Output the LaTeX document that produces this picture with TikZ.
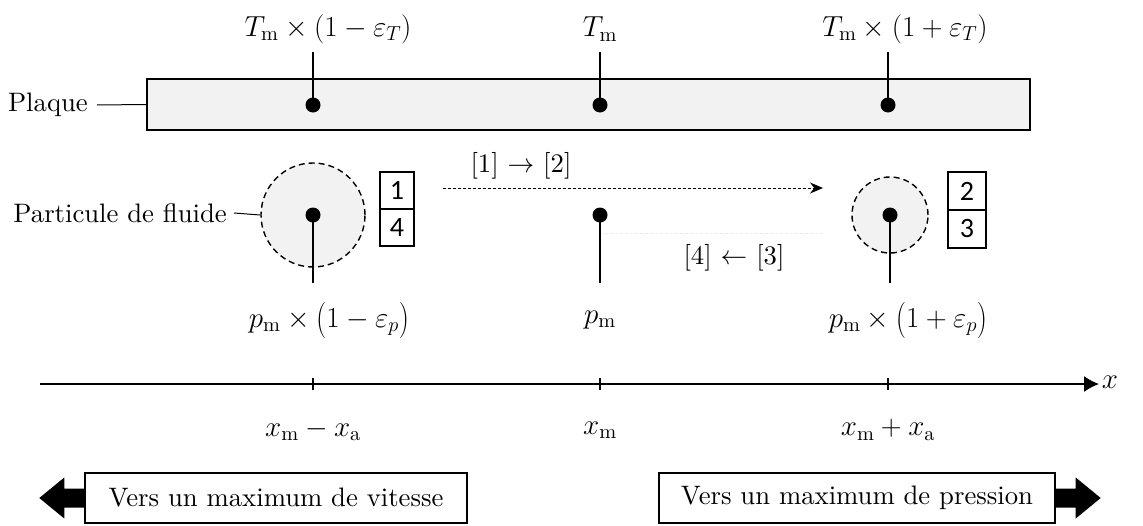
\RequirePackage{fix-cm}
\documentclass[tikz,border=0pt]{standalone}
\usepackage{amsmath}
\usepackage{graphicx}
\usepackage{fontspec}
\setmainfont{lmroman10-regular.otf}
\newfontfamily\numfont{Carlito}
\usetikzlibrary{arrows.meta}
\newcommand{\mathsz}{\fontsize{29}{34}\selectfont}
\newcommand{\tallL}{\mathopen{\raisebox{-1.8pt}{\scalebox{1}[1.25]{$($}}}}
\newcommand{\tallR}{\mathclose{\raisebox{-1.8pt}{\scalebox{1}[1.25]{$)$}}}}
\begin{document}
\begin{tikzpicture}[x=1pt,y=-1pt,
  font=\fontsize{26.7}{31}\selectfont,
  mlabel/.style={font=\mathsz},
  dot/.style={circle,fill=black,inner sep=0pt,minimum size=15pt},
  stem/.style={line width=1.4pt},
  particle/.style={circle,draw,fill=gray!10,line width=1.4pt,dash pattern=on 6pt off 4pt,inner sep=0pt},
  numbox/.style={draw,line width=1.4pt,inner sep=0pt,font=\numfont\fontsize{28}{30}\selectfont},
  textbox/.style={draw,line width=1.4pt,minimum height=50pt,inner sep=0pt},
  blockarrow/.style={fill=black}]
\useasboundingbox (0,0) rectangle (1143,525);

% plate
\node[draw,line width=2pt,fill=gray!10,minimum width=883pt,minimum height=51pt,inner sep=0pt] (plate) at (588.5,104.5) {};
\node[anchor=east,inner sep=0pt] (plq) at (88,105) {Plaque};
\draw[line width=1pt] ([xshift=9pt]plq.east) -- (plate.west);

% top dots and labels
\node[dot] (tl) at (313,105) {};
\node[dot] (tm) at (600,105) {};
\node[dot] (tr) at (888,105) {};
\node[mlabel] (Tl) at (328,29) {$T_\mathrm{m}\times(1-\varepsilon_T)$};
\node[mlabel] (Tm) at (600,29) {$T_\mathrm{m}$};
\node[mlabel] (Tr) at (905,29) {$T_\mathrm{m}\times(1+\varepsilon_T)$};
\coordinate (tlt) at (313,52);
\coordinate (tmt) at (600,52);
\coordinate (trt) at (888,52);
\draw[stem] (tl.center) -- (tlt);
\draw[stem] (tm.center) -- (tmt);
\draw[stem] (tr.center) -- (trt);

% particles
\node[particle,minimum size=104pt] (pl) at (313,215) {};
\node[particle,minimum size=76pt] (pr) at (890,215) {};
\node[anchor=east,inner sep=0pt] (pdf) at (227,213) {Particule de fluide};
\draw[line width=1pt] ([xshift=7pt]pdf.east) -- (pl.west);

\node[dot] (ml) at (313,215) {};
\node[dot] (mm) at (600,215) {};
\node[dot] (mr) at (890,215) {};

% numbered boxes
\node[numbox,minimum width=34pt,minimum height=37pt] (b1) at (397,190.5) {1};
\node[numbox,minimum width=34pt,minimum height=37pt] (b4) at (397,227.5) {4};
\node[numbox,minimum width=38pt,minimum height=38pt] (b2) at (967,191) {2};
\node[numbox,minimum width=38pt,minimum height=38pt] (b3) at (967,229) {3};

% transitions
\coordinate (a1s) at (443,188);
\coordinate (a1e) at (823,188);
\draw[line width=1pt,dash pattern=on 3pt off 2pt,-{Stealth[length=13pt,width=11pt]}] (a1s) -- (a1e);
\node (l12) at (521,166) {[1] $\rightarrow$ [2]};
\coordinate (a2s) at (823,233);
\coordinate (a2e) at (602,233);
\draw[black!8,line width=1pt,dash pattern=on 3pt off 2pt] (a2s) -- (a2e);
\node (l43) at (734,258) {[4] $\leftarrow$ [3]};

% bottom stems and labels
\node[mlabel] (Pl) at (329,320) {$p_\mathrm{m}\times\tallL 1-\varepsilon_p\tallR$};
\node[mlabel] (Pm) at (600,320) {$p_\mathrm{m}$};
\node[mlabel] (Pr) at (908,320) {$p_\mathrm{m}\times\tallL 1+\varepsilon_p\tallR$};
\coordinate (plb) at (313,283);
\coordinate (pmb) at (600,283);
\coordinate (prb) at (890,283);
\draw[stem] (ml.center) -- (plb);
\draw[stem] (mm.center) -- (pmb);
\draw[stem] (mr.center) -- (prb);

% axis
\coordinate (ax0) at (40,384);
\coordinate (ax1) at (1099,384);
\draw[line width=1.4pt,-{Latex[length=15pt,width=16pt]}] (ax0) -- (ax1);
\node[mlabel] (xl) at (1110,382) {$x$};
\coordinate (k1) at (313,384);
\coordinate (k2) at (600,384);
\coordinate (k3) at (888,384);
\draw[line width=1.4pt] ([yshift=6pt]k1) -- ([yshift=-6pt]k1);
\draw[line width=1.4pt] ([yshift=6pt]k2) -- ([yshift=-6pt]k2);
\draw[line width=1.4pt] ([yshift=6pt]k3) -- ([yshift=-6pt]k3);
\node[mlabel] (x1) at (313,430) {$x_\mathrm{m}-x_\mathrm{a}$};
\node[mlabel] (x2) at (600,430) {$x_\mathrm{m}$};
\node[mlabel] (x3) at (888,430) {$x_\mathrm{m}+x_\mathrm{a}$};

% bottom boxes
\node[textbox,minimum width=382pt] (vb) at (276,498) {Vers un maximum de vitesse};
\node[textbox,minimum width=396pt] (pb) at (857,498) {Vers un maximum de pression};
\fill[blockarrow] ([yshift=-9.5pt]vb.west) -- ++(-20,0) -- ++(0,11) -- ++(-25,-20.5) -- ++(25,-20.5) -- ++(0,11) -- ++(20,0) -- cycle;
\fill[blockarrow] ([yshift=-9.5pt]pb.east) -- ++(20,0) -- ++(0,11) -- ++(25,-20.5) -- ++(-25,-20.5) -- ++(0,11) -- ++(-20,0) -- cycle;
\end{tikzpicture}
\end{document}
